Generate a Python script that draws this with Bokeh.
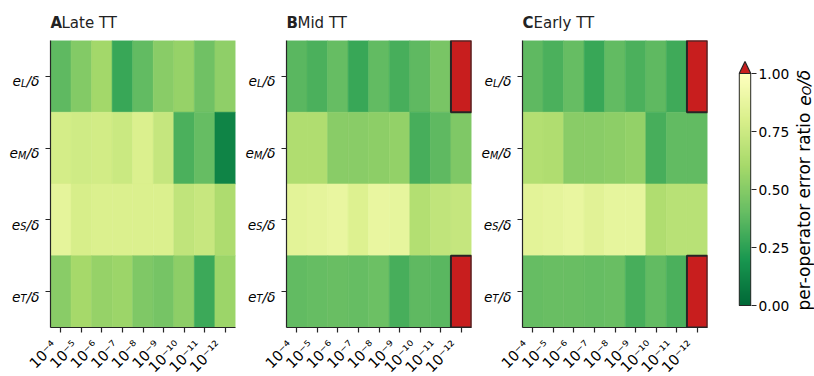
import math
import numpy as np
from bokeh.plotting import figure
from bokeh.models import (LinearColorMapper, Range1d, FixedTicker,
                          LinearAxis, ColumnDataSource, NumeralTickFormatter)
from bokeh.core.properties import value
from bokeh.layouts import row, column
from bokeh.embed import file_html
from bokeh.resources import INLINE

# ---------------- data ----------------
thresholds = ["10⁻⁴", "10⁻⁵", "10⁻⁶", "10⁻⁷", "10⁻⁸", "10⁻⁹", "10⁻¹⁰", "10⁻¹¹", "10⁻¹²"]
operators = ["L", "M", "S", "T"]
panel_titles = ["Late TT", "Mid TT", "Early TT"]
panel_letters = ["A", "B", "C"]

# per-operator error ratio e_O/delta ; values > 1 are out of range (drawn red)
late_L = [0.38, 0.49, 0.59, 0.28, 0.39, 0.51, 0.55, 0.43, 0.53]
late_M = [0.78, 0.76, 0.77, 0.74, 0.81, 0.72, 0.33, 0.40, 0.12]
late_S = [0.86, 0.79, 0.81, 0.81, 0.81, 0.81, 0.70, 0.73, 0.63]
late_T = [0.51, 0.60, 0.55, 0.57, 0.48, 0.45, 0.52, 0.29, 0.57]

mid_L = [0.37, 0.33, 0.40, 0.28, 0.39, 0.32, 0.38, 0.46, 1.50]
mid_M = [0.64, 0.64, 0.51, 0.51, 0.52, 0.54, 0.32, 0.38, 0.48]
mid_S = [0.85, 0.86, 0.88, 0.82, 0.88, 0.87, 0.65, 0.70, 0.72]
mid_T = [0.39, 0.40, 0.41, 0.40, 0.42, 0.32, 0.38, 0.37, 1.50]

early_L = [0.38, 0.33, 0.40, 0.28, 0.39, 0.33, 0.38, 0.30, 1.50]
early_M = [0.65, 0.64, 0.51, 0.51, 0.52, 0.54, 0.32, 0.39, 0.39]
early_S = [0.85, 0.86, 0.88, 0.84, 0.87, 0.87, 0.64, 0.67, 0.67]
early_T = [0.40, 0.41, 0.41, 0.40, 0.41, 0.32, 0.39, 0.33, 1.50]

colorbar_ticks = [0.0, 0.25, 0.5, 0.75, 1.0]

panels = [
    [late_L, late_M, late_S, late_T],
    [mid_L, mid_M, mid_S, mid_T],
    [early_L, early_M, early_S, early_T],
]

# ---------------- style ----------------
FONT = "DejaVu Sans"
DARK = "#262626"
OVER = "#c81e1e"
anchors = ["#006837", "#1a9850", "#66bd63", "#a6d96a", "#d9ef8b", "#ffffbf"]


def hex2rgb(h):
    return np.array([int(h[i:i + 2], 16) for i in (1, 3, 5)], dtype=float)


anc = np.array([hex2rgb(h) for h in anchors])
pos = np.linspace(0, 1, len(anchors))
palette = []
for t in np.linspace(0, 1, 256):
    rgb = [np.interp(t, pos, anc[:, k]) for k in range(3)]
    palette.append("#%02x%02x%02x" % tuple(int(round(c)) for c in rgb))

mapper = LinearColorMapper(palette=palette, low=0, high=1, high_color=OVER)

# layout (pixels)
TOP = 40          # title strip height
FRAME_H = 287     # heatmap frame height
BOT = 8           # heatmap bottom border (ticks only)
H = FRAME_H + BOT
STRIP_H = 376 - TOP - H
FRAME_W = 185
LAB_W = [44, 36, 36]
HEAT_R = [9, 9, 15]
HEAT_L = 6
TICK_FS = 13.8
XT_FS = 14.5
SUB_FS = 9.7
sub_w = {"L": 0.557, "M": 0.863, "S": 0.635, "T": 0.611}
ncol = len(thresholds)
unit = FRAME_W / ncol


def bare(width, height, xr, yr):
    p = figure(width=width, height=height, min_border=0, x_range=xr, y_range=yr,
               output_backend="svg", toolbar_location=None, tools="",
               x_axis_location=None, y_axis_location=None)
    p.grid.visible = False
    p.outline_line_color = None
    return p


def heat(vals, right):
    width = HEAT_L + FRAME_W + right
    p = figure(width=width, height=H, min_border=0, min_border_left=HEAT_L,
               min_border_right=right, min_border_top=0, min_border_bottom=BOT,
               x_range=Range1d(-0.5, ncol - 0.5), y_range=Range1d(-0.5, len(operators) - 0.5),
               output_backend="svg", toolbar_location=None, tools="")
    xs, ys, vs = [], [], []
    for r, rowvals in enumerate(vals):
        for c, v in enumerate(rowvals):
            xs.append(c)
            ys.append(len(operators) - 1 - r)
            vs.append(v)
    src = ColumnDataSource(dict(x=xs, y=ys, v=vs))
    p.rect(x="x", y="y", width=1, height=1, source=src,
           fill_color={"field": "v", "transform": mapper},
           line_color={"field": "v", "transform": mapper}, line_width=0.6)
    over = [i for i, v in enumerate(vs) if v > 1]
    src_o = ColumnDataSource(dict(x=[xs[i] for i in over], y=[ys[i] for i in over]))
    p.rect(x="x", y="y", width=1, height=1, source=src_o,
           fill_color=OVER, line_color=DARK, line_width=2)

    p.grid.visible = False
    p.outline_line_color = None
    for ax in (p.xaxis, p.yaxis):
        ax.axis_line_color = DARK
        ax.axis_line_width = 1.2
        ax.major_tick_line_color = DARK
        ax.major_tick_line_width = 1.2
        ax.major_tick_out = 5
        ax.major_tick_in = 0
        ax.minor_tick_line_color = None
        ax.major_label_standoff = 0
        ax.major_label_text_font_size = "1px"
    p.xaxis.ticker = FixedTicker(ticks=list(range(ncol)))
    p.xaxis.major_label_overrides = {i: "" for i in range(ncol)}
    p.yaxis.ticker = FixedTicker(ticks=list(range(len(operators))))
    p.yaxis.major_label_overrides = {i: "" for i in range(len(operators))}
    return p


def row_labels(width, yr):
    """narrow figure holding the e_X/δ row labels"""
    lp = bare(width, H, Range1d(0, width), yr)
    lp.min_border_bottom = BOT
    ys = [len(operators) - 1 - r for r in range(len(operators))]
    xr = width - 5
    x_sub = [xr - 0.949 * TICK_FS] * len(operators)
    x_e = [xs - sub_w[op] * SUB_FS for xs, op in zip(x_sub, operators)]
    common = dict(text_align="right", text_baseline="alphabetic",
                  text_font=value(FONT), text_font_style="italic", text_color="black")
    lp.text(x=[xr] * len(operators), y=ys, text=["/δ"] * len(operators), y_offset=5,
            text_font_size=value(f"{TICK_FS}px"), **common)
    lp.text(x=x_sub, y=ys, text=operators, y_offset=7,
            text_font_size=value(f"{SUB_FS}px"), **common)
    lp.text(x=x_e, y=ys, text=["e"] * len(operators), y_offset=5,
            text_font_size=value(f"{TICK_FS}px"), **common)
    return lp


def tick_strip(width, lab_w):
    """strip below a heatmap carrying its rotated x tick labels (same x scale as the heatmap)"""
    left_px = lab_w + HEAT_L
    xr = Range1d(-0.5 - left_px / unit, -0.5 + (width - left_px) / unit)
    sp = bare(width, STRIP_H, xr, Range1d(0, STRIP_H))
    sp.text(x=list(range(ncol)), y=[STRIP_H - 2] * ncol, text=thresholds,
            angle=math.pi / 4, x_offset=-12,
            text_align="right", text_baseline="top",
            text_font=value(FONT), text_font_size=value(f"{XT_FS}px"), text_color="black")
    return sp


heats = [heat(panels[i], HEAT_R[i]) for i in range(3)]
labs = [row_labels(LAB_W[i], heats[i].y_range) for i in range(3)]

# ---------------- colorbar ----------------
lo = -(327 - 305) / 232
hi = 1 + (73 - 40) / 232
ext = 1 + 12 / 232
CB_W = 16 + 16 + 38
cb = figure(width=CB_W, height=H, min_border=0, min_border_left=16, min_border_right=38,
            min_border_top=0, min_border_bottom=BOT,
            x_range=Range1d(-0.06, 1.06), y_range=Range1d(lo, hi),
            output_backend="svg", toolbar_location=None, tools="",
            x_axis_location=None, y_axis_location=None)
cb.grid.visible = False
cb.outline_line_color = None
grad = np.linspace(0, 1, 256).reshape(-1, 1)
cb.image(image=[grad], x=0, y=0, dw=1, dh=1, color_mapper=mapper)
cb.quad(left=0, right=1, bottom=0, top=1, fill_color=None, line_color=DARK, line_width=1.2)
cb.patch(x=[0, 1, 0.5], y=[1, 1, ext], fill_color=OVER, line_color=DARK, line_width=1.2)
ax = LinearAxis(ticker=FixedTicker(ticks=colorbar_ticks),
                formatter=NumeralTickFormatter(format="0.00"))
ax.axis_line_color = None
ax.major_tick_line_color = DARK
ax.major_tick_line_width = 1.2
ax.major_tick_out = 5
ax.major_tick_in = 0
ax.minor_tick_line_color = None
ax.major_label_text_font = FONT
ax.major_label_text_font_size = f"{TICK_FS}px"
ax.major_label_text_color = "black"
ax.major_label_standoff = 2
cb.add_layout(ax, "right")

# colorbar label strip (pixel-like coordinates: y = 376 - screen_y)
used = sum(LAB_W) + sum(HEAT_L + FRAME_W + r for r in HEAT_R) + CB_W
CL_W = 814 - used
cl = bare(CL_W, H, Range1d(0, CL_W), Range1d(376 - 327, 376 - TOP))
cl.min_border_bottom = BOT
LAB_FS = 17
LAB_SUB = 12
pieces = [("per-operator error ratio ", 12.043, LAB_FS, "normal", 0),
          ("e", 0.615, LAB_FS, "italic", 0),
          ("O", 0.787, LAB_SUB, "italic", 3),
          ("/δ", 0.949, LAB_FS, "italic", 0)]
ypos = 376 - 310
base_x = CL_W - 10.5
for txt, w, fs, style, drop in pieces:
    cl.text(x=[base_x + drop], y=[ypos], text=[txt], angle=math.pi / 2,
            text_align="left", text_baseline="middle",
            text_font=value(FONT), text_font_style=value(style),
            text_font_size=value(f"{fs}px"), text_color="black")
    ypos += w * fs

# ---------------- title strip ----------------
ts = bare(814, TOP, Range1d(0, 814), Range1d(0, TOP))
title_x = []
acc = 0
for i in range(3):
    title_x.append(acc + LAB_W[i] + HEAT_L)
    acc += LAB_W[i] + HEAT_L + FRAME_W + HEAT_R[i]
ts.text(x=title_x, y=[18] * 3, text=panel_letters, text_font=value(FONT),
        text_font_style=value("bold"), text_font_size=value("15px"),
        text_color="#222222", text_baseline="alphabetic")
ts.text(x=[t + 11 for t in title_x], y=[18] * 3, text=panel_titles, text_font=value(FONT),
        text_font_size=value("15px"), text_color="#222222", text_baseline="alphabetic")

# ---------------- tick label strips ----------------
strip_w = [LAB_W[i] + HEAT_L + FRAME_W + HEAT_R[i] for i in range(3)]
strip_w[2] += CB_W + CL_W
strips = [tick_strip(strip_w[i], LAB_W[i]) for i in range(3)]

plots_row = row(labs[0], heats[0], labs[1], heats[1], labs[2], heats[2], cb, cl)
layout = column(ts, plots_row, row(*strips))
open("out.html", "w").write(file_html(layout, INLINE))
